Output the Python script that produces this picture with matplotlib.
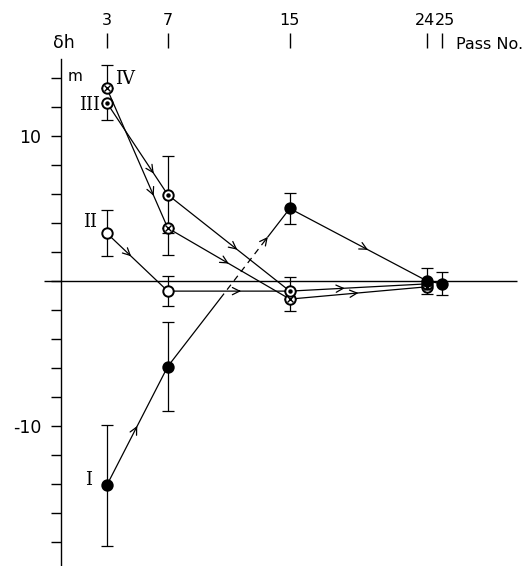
import matplotlib
matplotlib.use("Agg")
import matplotlib.pyplot as plt
import numpy as np

# ---------------- data ----------------
passes_I = [3, 7, 15, 24, 25]
dh_I = [-14.1, -5.9, 5.0, 0.0, -0.2]
err_I = [4.2, 3.1, 1.1, 0.9, 0.8]

passes_II = [3, 7, 15]
dh_II = [3.3, -0.7, -0.7]
err_II = [1.6, 1.05, 0.0]

passes_III = [3, 7, 15, 24]
dh_III = [12.3, 5.95, -0.7, -0.2]
err_III_lo = [1.2, 2.65, 0.0, 0.0]
err_III_hi = [0.0, 2.65, 0.95, 0.0]

passes_IV = [3, 7, 15, 24]
dh_IV = [13.3, 3.65, -1.25, -0.4]
err_IV_lo = [0.0, 1.85, 0.85, 0.6]
err_IV_hi = [1.6, 0.0, 0.0, 0.0]

top_ticks = [3, 7, 15, 24, 25]
top_labels = ["3", "7", "15", "24", "25"]
top_align = ["center", "center", "center", "right", "left"]
y_major = [10, -10]
y_minor = list(range(-18, 16, 2))

# fractions along segments where arrowheads sit
arrows_I = [0.5, 0.82, 0.57]
arrows_II = [0.4, 0.6]
arrows_III = [0.77, 0.57, 0.4]
arrows_IV = [0.77, 0.5, 0.5]

# ---------------- figure ----------------
fig = plt.figure(figsize=(5.28, 5.66), dpi=100)
ax = fig.add_axes([0, 0, 1, 1])
ax.set_xlim(-4.0, 30.62)
ax.set_ylim(-19.66, 19.38)

for s in ["top", "right", "bottom"]:
    ax.spines[s].set_visible(False)
ax.spines["left"].set_position(("data", 0))
ax.spines["left"].set_bounds(-19.7, 15.3)
ax.spines["left"].set_linewidth(1.0)
ax.set_xticks([])
ax.set_yticks(y_minor)
ax.set_yticklabels(["10" if v == 10 else ("-10" if v == -10 else "") for v in y_minor])
ax.tick_params(axis="y", direction="out", length=7, width=1.0, pad=7, labelsize=12.5)
ax.patch.set_visible(False)

# zero line
ax.hlines(0, -1.1, 29.9, color="black", lw=1.0, zorder=1)

# top pass-number axis
sec = ax.secondary_xaxis(1 - 48 / 566)
sec.set_xticks(top_ticks)
sec.set_xticklabels(["", "", "", "", ""])
sec.spines["top"].set_visible(False)
sec.tick_params(direction="out", length=11, width=1.0)
offs = {"center": 0.0, "right": 0.5, "left": -0.5}
for p, lab, al in zip(top_ticks, top_labels, top_align):
    ax.text(p + offs[al], 18.0, lab, ha=al, va="center", fontsize=11.5)

ax.text(0.16, 16.4, "δh", ha="center", va="center", fontsize=12.5)
ax.text(0.45, 14.07, "m", ha="left", va="center", fontsize=11)
ax.text(25.9, 16.3, "Pass No.", ha="left", va="center", fontsize=11.5)

serif = "DejaVu Serif"
ax.text(3.54, 13.9, "IV", ha="left", va="center", fontsize=13, family=serif)
ax.text(2.56, 12.14, "III", ha="right", va="center", fontsize=13, family=serif)
ax.text(2.36, 4.07, "II", ha="right", va="center", fontsize=13, family=serif)
ax.text(2.03, -13.7, "I", ha="right", va="center", fontsize=13, family=serif)

lw = 0.9


def draw_arrows(xs, ys, fracs):
    for i, f in enumerate(fracs):
        x0, y0, x1, y1 = xs[i], ys[i], xs[i + 1], ys[i + 1]
        xm, ym = x0 + f * (x1 - x0), y0 + f * (y1 - y0)
        xb, yb = x0 + (f - 0.02) * (x1 - x0), y0 + (f - 0.02) * (y1 - y0)
        ax.annotate("", xy=(xm, ym), xytext=(xb, yb),
                    arrowprops=dict(arrowstyle="->", lw=lw, color="black",
                                    mutation_scale=13, shrinkA=0, shrinkB=0),
                    zorder=3)


# Curve I (with a dashed part between passes 7 and 15)
xI, yI = np.array(passes_I, float), np.array(dh_I, float)
ax.plot(xI[:2], yI[:2], color="black", lw=lw, zorder=2)
ax.plot(xI[2:], yI[2:], color="black", lw=lw, zorder=2)
fa, fb = 0.43, 0.82
pa = (xI[1] + fa * (xI[2] - xI[1]), yI[1] + fa * (yI[2] - yI[1]))
pb = (xI[1] + fb * (xI[2] - xI[1]), yI[1] + fb * (yI[2] - yI[1]))
ax.plot([xI[1], pa[0]], [yI[1], pa[1]], color="black", lw=lw, zorder=2)
ax.plot([pa[0], pb[0]], [pa[1], pb[1]], color="black", lw=lw, ls=(0, (5, 4)), zorder=2)
ax.plot([pb[0], xI[2]], [pb[1], yI[2]], color="black", lw=lw, zorder=2)
draw_arrows(xI, yI, arrows_I)

# Curves II, III, IV
ax.plot(passes_II, dh_II, color="black", lw=lw, zorder=2)
draw_arrows(passes_II, dh_II, arrows_II)
ax.plot(passes_III, dh_III, color="black", lw=lw, zorder=2)
draw_arrows(passes_III, dh_III, arrows_III)
ax.plot(passes_IV, dh_IV, color="black", lw=lw, zorder=2)
draw_arrows(passes_IV, dh_IV, arrows_IV)

ekw = dict(fmt="none", ecolor="black", elinewidth=lw, capsize=4, capthick=lw, zorder=2)
ax.errorbar(passes_I, dh_I, yerr=err_I, **ekw)
ax.errorbar(passes_II[:2], dh_II[:2], yerr=err_II[:2], **ekw)
ax.errorbar(passes_III[:3], dh_III[:3], yerr=[err_III_lo[:3], err_III_hi[:3]], **ekw)
ax.errorbar(passes_IV[:3], dh_IV[:3], yerr=[err_IV_lo[:3], err_IV_hi[:3]], **ekw)

ms = 7.5
# markers
ax.plot(passes_IV, dh_IV, "o", ms=ms, mfc="white", mec="black", mew=1.4, zorder=4)
ax.plot(passes_IV, dh_IV, "x", ms=4.2, mec="black", mew=1.0, zorder=5)
ax.plot(passes_III, dh_III, "o", ms=ms, mfc="white", mec="black", mew=1.4, zorder=4)
ax.plot(passes_III, dh_III, "o", ms=2.2, mfc="black", mec="black", zorder=5)
ax.plot(passes_II[:2], dh_II[:2], "o", ms=ms, mfc="white", mec="black", mew=1.4, zorder=4)
ax.plot(passes_I, dh_I, "o", ms=ms, mfc="black", mec="black", mew=1.4, zorder=6)

fig.savefig("out.png", dpi=100)
